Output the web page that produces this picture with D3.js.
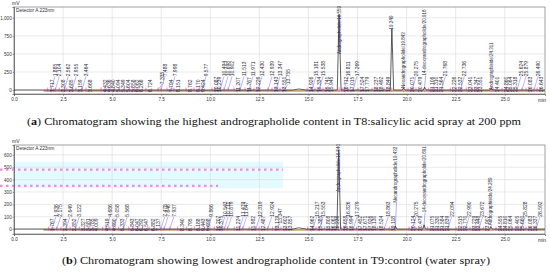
<!DOCTYPE html>
<html lang="en">
<head>
<meta charset="UTF-8">
<title>Chromatograms T8 / T9</title>
<script src="https://cdn.jsdelivr.net/npm/d3@7"></script>
<style>
    body { margin: 0; background: #fff; }
    svg { display: block; font-family: "Liberation Sans", Arial, sans-serif; }
    .rt { font-size: 5px; fill: #2b2b3a; }
    .nm { font-size: 4.5px; fill: #2b2b3a; }
    .tick text { font-size: 4.6px; fill: #333; }
    .cap { font-family: "Liberation Serif", "DejaVu Serif", serif; font-size: 10.5px; fill: #111; }
</style>
</head>
<body>
<svg id="chart" width="550" height="276"></svg>
<script>
    // axis ticks
    const xTicks = [0, 2.5, 5, 7.5, 10, 12.5, 15, 17.5, 20, 22.5, 25];
    const yTicksA = [0, 250, 500, 750, 1000];
    const yTicksB = [0, 100, 200, 300, 400, 500, 600];

    // small peaks: [retention time, label row]  S = low, M = middle, T = high
    const peaksA = [
        [1.717,"S"],[1.885,"T"],[2.104,"T"],[2.308,"S"],[2.562,"T"],[2.685,"S"],[2.955,"T"],[3.159,"S"],[3.464,"T"],[3.668,"S"],
        [4.432,"S"],[4.636,"S"],[4.840,"S"],[5.094,"S"],[5.349,"S"],[5.604,"S"],[5.858,"S"],[6.062,"S"],[6.266,"S"],[6.724,"S"],
        [7.335,"M"],[7.488,"T"],[7.794,"S"],[7.998,"T"],[8.151,"S"],[8.762,"S"],[9.170,"S"],[9.424,"S"],[9.577,"T"],
        [10.087,"S"],[10.239,"S"],[10.494,"T"],[10.698,"T"],[10.902,"T"],[11.207,"S"],[11.513,"T"],[11.767,"S"],[11.971,"T"],[12.226,"S"],[12.430,"T"],
        [12.939,"T"],[13.143,"S"],[13.347,"T"],[13.551,"S"],[13.755,"M"],
        [14.926,"S"],[15.181,"T"],[15.334,"S"],[15.538,"T"],[15.741,"S"],[15.945,"S"],
        [16.712,"S"],[16.811,"T"],[17.015,"S"],[17.269,"T"],[17.524,"S"],[17.779,"S"],[18.237,"S"],[18.492,"S"],[18.849,"S"],
        [20.071,"S"],[20.275,"T"],[20.479,"S"],[21.106,"S"],[21.310,"S"],[21.564,"S"],[21.768,"T"],[22.226,"S"],[22.532,"S"],[22.736,"T"],
        [23.041,"S"],[23.347,"S"],[23.551,"S"],[24.401,"S"],[24.860,"S"],[25.064,"S"],[25.318,"S"],[25.624,"T"],[25.879,"T"],[26.083,"S"],[26.490,"T"],[26.643,"S"]
    ];
    const peaksB = [
        [1.767,"S"],[1.936,"T"],[2.175,"T"],[2.394,"S"],[2.649,"T"],[2.852,"S"],[3.122,"T"],[3.327,"S"],[3.581,"S"],[3.785,"S"],[4.009,"S"],
        [4.519,"S"],[4.686,"T"],[4.890,"S"],[5.058,"T"],[5.333,"S"],[5.568,"T"],[5.843,"S"],[6.047,"S"],
        [6.292,"S"],[6.547,"S"],[6.882,"S"],[7.137,"S"],[7.478,"T"],[7.646,"T"],[7.937,"T"],[8.340,"S"],[8.795,"S"],[9.188,"S"],[9.443,"S"],
        [9.698,"S"],[9.866,"T"],[10.207,"S"],[10.375,"S"],[10.543,"T"],[10.711,"T"],[10.879,"T"],[11.224,"S"],[11.479,"T"],[11.647,"T"],
        [11.982,"S"],[12.319,"T"],[12.487,"S"],[12.924,"T"],[13.179,"S"],[13.347,"M"],[13.602,"S"],[13.857,"S"],
        [14.962,"S"],[15.217,"T"],[15.385,"S"],[15.553,"T"],[15.808,"S"],[16.063,"S"],[16.236,"S"],
        [16.658,"S"],[16.826,"T"],[16.994,"S"],[17.279,"T"],[17.452,"S"],[17.671,"S"],[17.926,"S"],[18.130,"S"],[18.524,"S"],[18.863,"T"],[19.118,"S"],
        [20.124,"S"],[20.275,"T"],[20.479,"S"],[21.075,"S"],[21.330,"S"],[21.584,"S"],[21.839,"S"],[22.094,"T"],[22.515,"S"],[22.770,"S"],[22.990,"T"],
        [23.229,"S"],[23.448,"S"],[23.672,"T"],[23.907,"S"],[24.555,"S"],[24.810,"S"],[25.064,"S"],[25.405,"S"],[25.660,"S"],[25.828,"T"],[26.083,"S"],[26.337,"S"],[26.592,"T"]
    ];

    // named peaks: label text, retention time, apex (mV), label start (mV)
    const namedA = [
        ["Andrographolide/16.559", 16.559, 1050, 500],
        ["19.249", 19.249, 850, 840],
        ["Neoandrographolide/19.843", 19.843, 30, 28],
        ["14-deoxyandrographolide/20.918", 20.918, 40, 200],
        ["Andrographiside/24.311", 24.311, 25, 0]
    ];
    const namedB = [
        ["Andrographolide/16.540", 16.540, 640, 300],
        ["Neoandrographolide/19.432", 19.432, 25, 215],
        ["14-deoxyandrographolide/20.891", 20.891, 35, 135],
        ["Andrographiside/24.289", 24.289, 20, 30]
    ];

    // detector trace: [time, mV]
    const traceA = [[0,0],[14.2,0],[14.5,14],[14.9,0],[16.47,0],[16.559,1050],[16.66,0],[19.17,0],[19.249,850],[19.34,0],
        [19.78,0],[19.843,30],[19.92,0],[20.85,0],[20.918,40],[20.99,0],[24.25,0],[24.311,25],[24.38,0],[27.05,0]];
    const traceB = [[0,0],[14.2,0],[14.5,10],[14.9,0],[16.45,0],[16.540,640],[16.64,0],[19.37,0],[19.432,25],[19.5,0],
        [20.83,0],[20.891,35],[20.96,0],[24.23,0],[24.289,20],[24.36,0],[27.05,0]];

    // ghost rows in panel b: [mV, end time]
    const ghostRowsB = [[480, 13.7], [350, 10.4]];
    const ghostBandB = [330, 545, 13.7];

    const levA = {S: -28, M: 80, T: 190};
    const levB = {S: -15, M: 45, T: 100};

    const svg = d3.select("#chart");
    const x = d3.scaleLinear().domain([0, 27.05]).range([14, 545]);

    function panel(o) {
        const y = d3.scaleLinear().domain(o.yDom).range([o.bottom, o.top]);
        const g = svg.append("g");

        if (o.band) {
            g.append("rect")
                .attr("x", x(0)).attr("width", x(o.band[2]) - x(0))
                .attr("y", y(o.band[1])).attr("height", y(o.band[0]) - y(o.band[1]))
                .attr("fill", "#e3fbff");
        }

        // grid
        g.selectAll(".vg").data(xTicks).enter().append("line")
            .attr("x1", d => x(d)).attr("x2", d => x(d))
            .attr("y1", o.top).attr("y2", o.bottom)
            .attr("stroke", "#dadada").attr("stroke-width", 0.6);
        g.selectAll(".hg").data(o.yTicks).enter().append("line")
            .attr("x1", x(0)).attr("x2", x(27.05))
            .attr("y1", d => y(d)).attr("y2", d => y(d))
            .attr("stroke", "#dadada").attr("stroke-width", 0.6);

        if (o.ghost) {
            g.selectAll(".gh").data(o.ghost).enter().append("line")
                .attr("x1", 0).attr("x2", d => x(d[1]))
                .attr("y1", d => y(d[0])).attr("y2", d => y(d[0]))
                .attr("stroke", "#ff84dc").attr("stroke-width", 2.2)
                .attr("stroke-dasharray", "2.5,3.5");
        }

        g.append("rect")
            .attr("x", x(0)).attr("y", o.top)
            .attr("width", x(27.05) - x(0)).attr("height", o.bottom - o.top)
            .attr("fill", "none").attr("stroke", "#8a8a8a").attr("stroke-width", 0.8);

        // axes
        const ax = g.append("g").attr("transform", `translate(0,${o.bottom})`)
            .call(d3.axisBottom(x).tickValues(xTicks).tickFormat(d3.format(".1f")).tickSize(2).tickPadding(1.5));
        const ay = g.append("g").attr("transform", `translate(${x(0)},0)`)
            .call(d3.axisLeft(y).tickValues(o.yTicks).tickSize(1.5).tickPadding(0.8));
        [ax, ay].forEach(a => {
            a.select(".domain").attr("stroke", "#555").attr("stroke-width", 0.7);
            a.selectAll(".tick line").attr("stroke", "#555").attr("stroke-width", 0.5);
        });
        g.append("text").attr("class", "rt").attr("x", 538).attr("y", o.bottom + 7.5).text("min");
        g.append("text").attr("class", "rt").attr("x", 12).attr("y", o.top - 1.8).text("mV");
        g.append("text").attr("class", "rt").attr("x", 16).attr("y", o.top + 4.8)
            .style("font-size", "4.8px").text("Detector A 223nm");

        // integration baseline
        g.append("line")
            .attr("x1", x(1.5)).attr("x2", x(27.05))
            .attr("y1", y(0) + 0.8).attr("y2", y(0) + 0.8)
            .attr("stroke", "#c9a56c").attr("stroke-width", 1.6);

        const all = o.peaks.map(p => p[0]).concat(o.named.map(p => p[1]));
        g.selectAll(".pm").data(all).enter().append("line")
            .attr("x1", d => x(d)).attr("x2", d => x(d))
            .attr("y1", y(0) + 2).attr("y2", y(0) - 2.5)
            .attr("stroke", "#ff5fcf").attr("stroke-width", 0.8);

        // trace
        g.append("path").datum(o.trace)
            .attr("d", d3.line().x(d => x(d[0])).y(d => y(d[1])))
            .attr("fill", "none").attr("stroke", "#1a1a1a").attr("stroke-width", 0.7);

        // small peak labels
        g.selectAll(".cn").data(o.peaks).enter().append("line")
            .attr("x1", d => x(d[0])).attr("y1", y(0))
            .attr("x2", d => x(d[0]) + 4).attr("y2", d => y(o.lev[d[1]]))
            .attr("stroke", "#7b6cf0").attr("stroke-width", 0.5);
        g.selectAll(".pl").data(o.peaks).enter().append("text")
            .attr("class", "rt")
            .attr("transform", d => `translate(${x(d[0]) + 5.8},${y(o.lev[d[1]])}) rotate(-90)`)
            .text(d => d[0].toFixed(3));

        // named peaks
        g.selectAll(".nc").data(o.named).enter().append("line")
            .attr("x1", d => x(d[1])).attr("y1", d => y(d[2]))
            .attr("x2", d => x(d[1]) + 1).attr("y2", d => y(d[3]))
            .attr("stroke", "#6a5be0").attr("stroke-width", 0.5);
        g.selectAll(".nl").data(o.named).enter().append("text")
            .attr("class", "nm")
            .attr("transform", d => `translate(${x(d[1]) + 1.5},${y(d[3])}) rotate(-90)`)
            .text(d => d[0]);
    }

    panel({top: 7, bottom: 94, yDom: [-55, 1150], yTicks: yTicksA,
           peaks: peaksA, lev: levA, named: namedA, trace: traceA});
    panel({top: 145, bottom: 234, yDom: [-40, 680], yTicks: yTicksB,
           peaks: peaksB, lev: levB, named: namedB, trace: traceB,
           ghost: ghostRowsB, band: ghostBandB});

    // captions
    const capA = svg.append("text").attr("class", "cap").attr("x", 27).attr("y", 124.5)
        .attr("textLength", 494).attr("lengthAdjust", "spacingAndGlyphs");
    capA.append("tspan").text("(");
    capA.append("tspan").attr("font-weight", "bold").text("a");
    capA.append("tspan").text(") Chromatogram showing the highest andrographolide content in T8:salicylic acid spray at 200 ppm");

    const capB = svg.append("text").attr("class", "cap").attr("x", 62).attr("y", 264)
        .attr("textLength", 428).attr("lengthAdjust", "spacingAndGlyphs");
    capB.append("tspan").text("(");
    capB.append("tspan").attr("font-weight", "bold").text("b");
    capB.append("tspan").text(") Chromatogram showing lowest andrographolide content in T9:control (water spray)");
</script>
</body>
</html>
